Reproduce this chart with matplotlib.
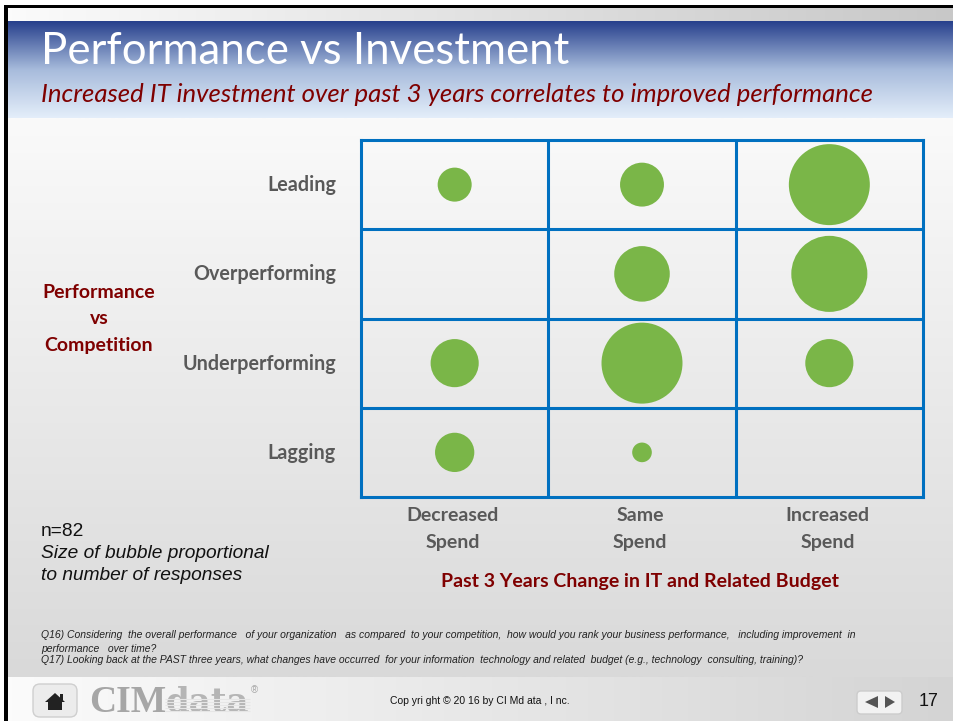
import numpy as np
import matplotlib
matplotlib.use("Agg")
import matplotlib.pyplot as plt
from matplotlib.patches import FancyBboxPatch, Polygon, Rectangle
from matplotlib.transforms import ScaledTranslation

# responses per cell (n=82)
spend = ["Decreased\nSpend", "Same\nSpend", "Increased\nSpend"]
performance = ["Lagging", "Underperforming", "Overperforming", "Leading"]
x_idx = [0, 1, 2, 1, 2, 0, 1, 2, 0, 1]
y_idx = [3, 3, 3, 2, 2, 1, 1, 1, 0, 0]
counts = [3, 5, 17, 8, 15, 6, 17, 6, 4, 1]

W, H = 954, 721
BLUE = "#0070c0"
GREEN = "#7ab648"
RED = "#7f0000"
GREY = "#595959"
plt.rcParams["font.family"] = ["Lato", "DejaVu Sans"]

fig = plt.figure(figsize=(W / 100, H / 100), dpi=100, facecolor="white")
bg = fig.add_axes([0, 0, 1, 1])
bg.set_xlim(0, W)
bg.set_ylim(H, 0)
bg.axis("off")


def grad(x0, x1, y0, y1, c0, c1, horizontal=False):
    t = np.linspace(0, 1, 256)
    c0 = np.array(matplotlib.colors.to_rgb(c0))
    c1 = np.array(matplotlib.colors.to_rgb(c1))
    img = np.outer(t, c1) + np.outer(1 - t, c0)
    img = img[None, :, :] if horizontal else img[:, None, :]
    bg.imshow(img, extent=[x0, x1, y1, y0], aspect="auto", zorder=1)


grad(8, W, 8, 21, "#fbfbfb", "#c8c8c8", True)
grad(8, W, 21, 70, "#263f8c", "#a8bcdc")
grad(8, W, 70, 118, "#a8bcdc", "#e4eefa")
grad(8, W, 118, 677, "#fafafa", "#d9d9d9")
grad(8, W, 677, H, "#fbfbfb", "#d4d4d4", True)
bg.set_xlim(0, W)
bg.set_ylim(H, 0)
bg.add_patch(Rectangle((4, 5), 4, H - 5, fc="black", ec="none", zorder=2))
bg.add_patch(Rectangle((4, 5), W - 4, 3, fc="black", ec="none", zorder=2))

bg.text(41, 51, "Performance vs Investment", color="white", fontsize=31.5,
        va="center", ha="left", zorder=3)
bg.text(41, 94, "Increased IT investment over past 3 years correlates to improved performance",
        color=RED, fontsize=18.55, style="italic", va="center", ha="left", zorder=3)

# side labels
bg.text(99, 319, "Performance\nvs\nCompetition", color=RED, fontsize=14, weight="bold",
        ha="center", va="center", linespacing=1.7, zorder=3)
bg.text(640, 581, "Past 3 Years Change in IT and Related Budget", color=RED, fontsize=14,
        weight="bold", ha="center", va="center", zorder=3)
bg.text(41, 531, "n=82", fontsize=13.8, color="#111111", family="Liberation Sans",
        va="center", zorder=3)
bg.text(41, 554, "Size of bubble proportional", fontsize=13.8, color="#111111",
        family="Liberation Sans", style="italic", va="center", zorder=3)
bg.text(41, 576, "to number of responses", fontsize=13.8, color="#111111",
        family="Liberation Sans", style="italic", va="center", zorder=3)

# footnotes
notes = [
    (635, "Q16) Considering  the overall performance   of your organization   as compared  to your competition,  how would you rank your business performance,   including improvement  in"),
    (649, "performance   over time?"),
    (660, "Q17) Looking back at the PAST three years, what changes have occurred  for your information  technology and related  budget (e.g., technology  consulting, training)?"),
]
for y, s in notes:
    bg.text(41, y, s, fontsize=7.5, style="italic", color="#222222",
            family="Liberation Sans", va="center", zorder=3)

# footer
bg.add_patch(FancyBboxPatch((33, 684), 44, 33, boxstyle="round,pad=0,rounding_size=7",
                            fc="#ececec", ec="#cfcfcf", lw=1, zorder=3))
bg.add_patch(Polygon([[45, 702], [55, 693], [65, 702]], fc="#222222", ec="none", zorder=4))
bg.add_patch(Rectangle((48, 702), 14, 8, fc="#222222", ec="none", zorder=4))
bg.add_patch(Rectangle((60, 694), 3, 6, fc="#222222", ec="none", zorder=4))
bg.text(89, 712.5, "CIM", fontsize=27, weight="bold", color="#a6a6a6",
        family="Liberation Serif", va="baseline", zorder=3)
bg.text(166, 712.5, "data", fontsize=24.5, weight="bold", color="#b5b5b5",
        family="DejaVu Serif", va="baseline", zorder=3)
bg.hlines([699, 702, 705, 708, 711], 165, 250, color="#e6e6e6", lw=0.8, zorder=4)
bg.text(254, 690, "®", fontsize=7, color="#a6a6a6", family="Liberation Sans",
        ha="center", va="center", zorder=3)
bg.text(480, 701, "Cop yri ght © 20 16 by CI Md ata , I nc.", fontsize=7.5,
        family="Liberation Sans", color="#111111", ha="center", va="center", zorder=3)
bg.add_patch(FancyBboxPatch((857, 691), 45, 23, boxstyle="round,pad=0,rounding_size=4",
                            fc="#f2f2f2", ec="#cccccc", lw=1, zorder=3))
bg.add_patch(Polygon([[865, 702], [878, 696], [878, 708]], fc="#555555", ec="none", zorder=4))
bg.add_patch(Polygon([[895, 702], [885, 696], [885, 708]], fc="#555555", ec="none", zorder=4))
bg.text(929, 702, "17", fontsize=13, family="Liberation Sans", color="#111111",
        ha="center", va="center", zorder=3)

# bubble grid
ax = fig.add_axes([361 / W, 1 - 497 / H, 562 / W, 357 / H])
ax.patch.set_alpha(0)
ax.set_xlim(0, 3)
ax.set_ylim(0, 4)
ax.set_xticks(np.arange(3) + 0.5)
ax.set_xticklabels(spend)
ax.set_yticks(np.arange(4) + 0.5)
ax.set_yticklabels(performance)
ax.tick_params(length=0, labelsize=14, labelcolor=GREY, pad=7)
ax.tick_params(axis="y", labelsize=14.2, pad=18)
shift_x = ScaledTranslation(-2 / 100, 0, fig.dpi_scale_trans)
shift_y = ScaledTranslation(0, 1.5 / 100, fig.dpi_scale_trans)
for lab in ax.get_xticklabels():
    lab.set_fontweight("bold")
    lab.set_linespacing(1.7)
    lab.set_transform(lab.get_transform() + shift_x)
for lab in ax.get_yticklabels():
    lab.set_fontweight("bold")
    lab.set_transform(lab.get_transform() + shift_y)
ax.set_xticks([1, 2], minor=True)
ax.set_yticks([1, 2, 3], minor=True)
ax.tick_params(which="minor", length=0)
ax.grid(which="minor", color=BLUE, lw=2.2)
ax.set_axisbelow(True)
for sp in ax.spines.values():
    sp.set_color(BLUE)
    sp.set_linewidth(2.2)
ax.scatter(np.array(x_idx) + 0.5, np.array(y_idx) + 0.5, s=np.array(counts) * 200.0,
           color=GREEN, linewidths=0, zorder=3, clip_on=False)

fig.savefig("out.png", dpi=100)
